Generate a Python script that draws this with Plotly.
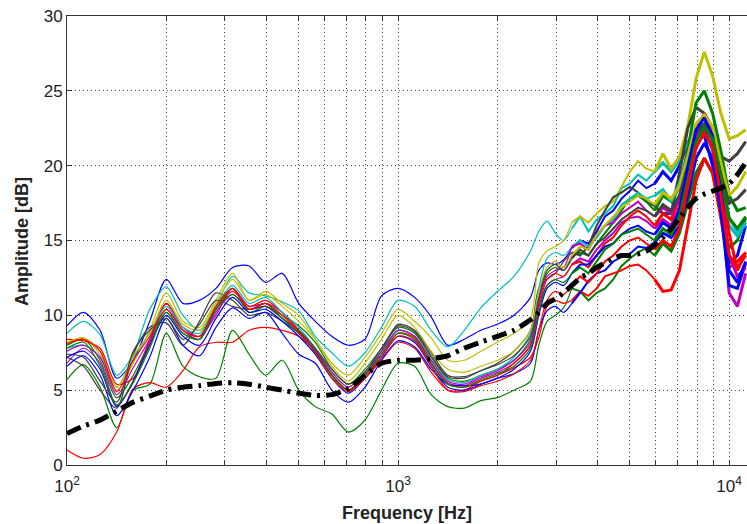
import plotly.graph_objects as go

# Frequency grid (Hz), log-spaced
FREQ_HZ = [100, 112.2, 125.9, 141.3, 158.5, 177.8, 199.5, 223.9, 251.2, 281.8,
           316.2, 354.8, 398.1, 446.7, 501.2, 562.3, 631.0, 707.9, 794.3, 891.3,
           1000, 1122, 1259, 1413, 1585, 1778, 1995, 2239, 2512,
           2661, 2818, 2985, 3162, 3350, 3548, 3758, 3981, 4217, 4467, 4732, 5012, 5309,
           5623, 5957, 6310, 6683, 7079, 7499, 7943, 8414, 8913, 9441, 10000, 10593, 11220]

# Measured amplitude responses (dB)
blue_1 = [9.3, 10.2, 9.0, 5.8, 7.0, 9.6, 12.4, 10.8, 11.0, 11.8,
          13.2, 13.3, 12.2, 12.8, 10.8, 9.6, 8.6, 8.0, 8.4, 11.3,
          11.8, 11.2, 9.9, 8.0, 8.4, 9.0, 9.4, 10.0, 11.2,
          13.0, 13.5, 13.4, 13.7, 14.5, 15.0, 14.8, 15.6, 16.6, 17.0, 17.8, 18.3, 19.0,
          18.5, 18.8, 19.6, 19.0, 20.0, 21.5, 22.5, 22.0, 20.0, 17.0, 13.5, 14.0, 16.0]
green_1 = [5.7, 6.7, 5.2, 2.5, 5.0, 5.4, 8.8, 6.6, 5.9, 5.8,
           9.0, 7.4, 6.0, 7.0, 5.0, 3.9, 3.4, 2.2, 3.0, 5.0,
           6.8, 6.6, 4.7, 3.9, 3.8, 4.3, 4.5, 5.0, 5.6,
           8.0, 9.6, 10.0, 10.5, 11.8, 11.6, 11.0, 11.5, 11.8, 12.4, 13.3, 13.8, 14.2,
           14.5, 14.0, 14.8, 14.3, 15.5, 17.5, 19.5, 20.5, 19.5, 17.0, 14.5, 15.0, 16.5]
red_1 = [1.0, 0.45, 0.7, 2.2, 5.1, 5.5, 5.2, 6.3, 7.9, 8.2,
         8.2, 9.0, 9.2, 9.0, 8.6, 7.6, 6.0, 5.0, 5.8, 7.0,
         8.2, 7.8, 6.2, 5.0, 5.0, 5.6, 6.0, 6.5, 7.2,
         8.5, 10.6, 11.0, 10.8, 11.0, 11.6, 11.3, 11.8, 12.6, 12.8, 13.0, 13.3, 13.4,
         13.0, 12.4, 11.6, 11.7, 13.0, 16.0, 19.0, 20.5, 19.5, 16.5, 13.2, 13.6, 14.2]
cyan_1 = [8.8, 9.6, 8.7, 6.0, 7.4, 10.4, 11.9, 10.0, 9.0, 10.6,
          12.6, 11.5, 11.3, 10.9, 10.3, 8.6, 7.5, 6.6, 7.5, 9.2,
          11.0, 10.6, 9.0, 7.9, 9.0, 10.5, 11.6, 12.6, 14.3,
          15.6, 16.3, 15.5, 15.0, 15.8, 16.6, 15.6, 16.4, 16.8, 17.3, 18.5, 18.8, 19.4,
          19.0, 19.6, 20.2, 19.6, 20.4, 21.5, 22.3, 22.6, 21.0, 18.5, 16.0, 15.3, 16.2]
magenta_1 = [6.8, 7.8, 6.8, 4.0, 5.6, 8.4, 10.8, 9.2, 8.6, 10.0,
             11.8, 10.6, 10.8, 10.2, 9.0, 7.6, 6.0, 5.0, 6.0, 7.4,
             9.0, 8.6, 6.8, 5.5, 5.3, 5.8, 6.2, 6.8, 8.0,
             10.6, 12.0, 12.4, 12.6, 13.4, 13.8, 13.6, 14.4, 15.0, 15.5, 16.2, 16.5, 16.6,
             16.3, 15.8, 16.4, 16.0, 17.2, 19.5, 21.8, 22.6, 21.5, 18.0, 11.5, 10.6, 12.8]
yellow_1 = [8.0, 8.4, 7.4, 5.0, 6.8, 9.0, 11.5, 9.6, 9.2, 11.0,
            12.8, 11.0, 11.4, 10.6, 9.6, 8.4, 6.8, 6.0, 7.2, 8.8,
            10.4, 9.6, 8.5, 7.0, 7.0, 7.6, 8.2, 8.8, 9.8,
            13.5, 14.3, 14.6, 15.0, 16.2, 16.6, 16.2, 16.8, 17.3, 17.6, 18.6, 19.6, 20.3,
            19.8, 19.6, 20.8, 19.8, 20.6, 22.6, 25.8, 27.6, 26.0, 23.5, 21.8, 22.0, 22.4]
gray_1 = [7.2, 6.6, 5.0, 3.8, 7.4, 9.2, 9.5, 8.0, 9.6, 11.5,
          11.0, 10.0, 10.2, 9.6, 8.8, 7.6, 6.0, 5.0, 6.0, 7.6,
          9.4, 9.0, 7.5, 6.0, 5.9, 6.3, 6.8, 7.6, 9.0,
          11.8, 12.4, 12.8, 13.6, 14.2, 14.0, 14.6, 16.0, 17.0, 17.9, 18.2, 18.6, 18.2,
          17.6, 17.3, 16.8, 16.8, 19.5, 22.5, 23.9, 23.5, 22.5, 20.6, 20.3, 20.8, 21.6]
blue_2 = [6.6, 7.3, 6.0, 3.3, 5.0, 7.2, 9.8, 8.0, 7.3, 9.2,
          10.5, 9.8, 10.2, 8.8, 7.4, 6.8, 5.0, 4.2, 5.2, 7.0,
          8.3, 7.9, 6.4, 5.4, 5.3, 5.4, 5.8, 6.1, 6.8,
          9.0, 10.3, 10.6, 10.2, 10.8, 11.5, 12.3, 12.8, 13.0, 13.6, 13.9, 14.1, 14.6,
          14.5, 14.9, 15.5, 15.2, 16.0, 18.0, 20.5, 21.5, 20.5, 17.0, 12.0, 11.8, 13.5]
green_2 = [8.0, 8.4, 7.0, 4.5, 6.0, 8.2, 10.2, 8.8, 8.4, 10.4,
           11.8, 10.2, 10.6, 10.0, 9.3, 8.2, 6.4, 5.4, 6.4, 7.8,
           9.2, 8.8, 7.2, 5.8, 5.6, 6.0, 6.4, 7.0, 8.4,
           11.0, 12.8, 13.2, 13.0, 14.0, 14.2, 14.0, 14.8, 15.5, 16.2, 17.0, 17.8, 18.0,
           17.6, 17.0, 18.0, 17.6, 18.6, 21.0, 24.2, 25.0, 23.5, 21.0, 18.0, 17.0, 17.2]
red_2 = [8.4, 8.3, 7.8, 5.4, 5.8, 8.2, 10.8, 9.0, 8.6, 10.4,
         11.6, 10.6, 11.0, 10.2, 9.0, 7.6, 6.0, 5.0, 6.0, 7.2,
         8.8, 8.5, 6.8, 5.4, 5.2, 5.6, 6.0, 6.8, 8.0,
         10.5, 12.4, 12.8, 12.6, 13.4, 13.6, 13.2, 14.0, 14.8, 15.2, 16.0, 16.6, 17.0,
         16.6, 16.0, 16.8, 16.4, 17.8, 20.5, 22.5, 23.4, 22.5, 19.5, 15.5, 13.0, 14.2]
cyan_2 = [7.8, 8.0, 7.2, 5.2, 7.2, 8.8, 10.6, 9.2, 8.8, 10.6,
          12.0, 10.8, 11.2, 10.2, 9.2, 7.8, 6.2, 5.2, 6.2, 7.6,
          9.0, 8.6, 7.0, 5.7, 5.5, 6.0, 6.4, 7.2, 8.8,
          11.8, 13.8, 14.2, 14.0, 14.6, 15.0, 14.6, 15.2, 16.0, 16.4, 17.4, 17.8, 18.2,
          17.8, 18.0, 18.4, 17.6, 18.8, 20.6, 22.4, 22.8, 21.6, 19.5, 16.5, 15.6, 16.0]
magenta_2 = [7.6, 8.0, 7.2, 4.7, 6.5, 8.4, 10.4, 9.0, 8.4, 10.2,
             11.4, 10.4, 10.6, 9.8, 8.8, 7.7, 6.2, 5.2, 6.2, 7.6,
             9.0, 8.6, 7.0, 5.6, 5.4, 5.9, 6.3, 7.0, 8.2,
             10.8, 12.6, 13.0, 13.2, 14.6, 14.8, 14.4, 15.4, 16.0, 16.2, 16.8, 17.2, 17.6,
             17.0, 16.6, 17.2, 16.8, 17.8, 19.8, 22.0, 22.4, 21.2, 18.5, 14.0, 12.6, 13.2]
yellow_2 = [8.2, 8.5, 7.6, 5.2, 7.3, 8.8, 11.0, 9.4, 9.0, 10.8,
            12.4, 11.0, 11.6, 10.8, 10.0, 8.4, 6.6, 5.6, 6.8, 8.4,
            10.0, 9.2, 7.6, 6.4, 6.2, 6.6, 7.0, 7.6, 9.0,
            11.6, 13.2, 13.6, 13.2, 14.0, 14.6, 14.4, 15.4, 16.0, 16.6, 17.2, 17.6, 18.0,
            17.8, 17.4, 18.2, 17.8, 18.6, 20.6, 22.8, 23.4, 22.6, 20.2, 18.0, 18.6, 19.6]
gray_2 = [7.4, 7.2, 5.6, 4.2, 7.6, 9.0, 9.8, 8.4, 9.4, 11.0,
          10.6, 10.4, 10.6, 9.8, 9.0, 7.8, 6.4, 5.4, 6.2, 7.8,
          9.3, 8.9, 7.3, 5.9, 5.8, 6.3, 6.7, 7.3, 8.6,
          11.2, 13.0, 13.4, 13.0, 13.8, 14.4, 14.0, 14.8, 15.2, 15.8, 16.4, 16.8, 17.2,
          17.0, 16.6, 17.4, 17.0, 18.0, 20.0, 22.2, 22.8, 21.8, 19.4, 17.5, 17.8, 18.4]
blue_3 = [7.2, 7.6, 6.4, 3.9, 5.6, 8.0, 10.0, 8.6, 8.0, 9.8,
          11.2, 10.2, 10.4, 9.6, 8.6, 7.4, 5.8, 4.8, 5.8, 7.2,
          8.6, 8.2, 6.6, 5.2, 5.0, 5.4, 5.8, 6.4, 7.6,
          10.0, 11.8, 12.2, 12.0, 12.8, 13.4, 13.4, 14.0, 14.6, 14.8, 15.4, 15.8, 16.0,
          15.6, 15.4, 16.2, 15.8, 17.0, 19.8, 22.4, 23.2, 22.0, 18.6, 13.0, 12.2, 13.6]
green_3 = [7.8, 8.2, 6.6, 4.0, 5.5, 7.8, 10.2, 8.8, 8.4, 10.4,
           11.4, 10.4, 10.8, 9.8, 8.8, 7.6, 6.0, 5.0, 6.0, 7.4,
           8.8, 8.4, 6.8, 5.4, 5.2, 5.7, 6.1, 6.6, 7.8,
           10.2, 12.0, 12.4, 12.2, 12.8, 13.2, 12.8, 13.6, 14.4, 14.8, 15.4, 15.6, 15.8,
           15.4, 15.0, 15.8, 15.4, 16.6, 19.0, 21.6, 22.6, 21.8, 19.4, 16.5, 15.8, 16.6]
red_3 = [8.1, 8.4, 7.6, 4.9, 7.0, 8.6, 10.4, 9.0, 8.6, 10.6,
         11.8, 10.4, 10.8, 10.0, 8.9, 7.5, 5.8, 4.9, 5.8, 7.2,
         8.6, 8.3, 6.6, 5.0, 4.9, 5.3, 5.6, 6.1, 7.0,
         9.0, 11.0, 11.6, 11.4, 12.0, 12.6, 12.2, 12.8, 13.6, 14.0, 14.6, 15.0, 15.2,
         14.8, 14.4, 15.0, 14.6, 15.8, 18.6, 21.2, 22.2, 21.2, 18.0, 14.0, 13.2, 14.0]

# Reference (target) curve, dB
reference_curve = [2.1, 2.6, 3.0, 3.6, 4.2, 4.6, 5.0, 5.2, 5.3, 5.45,
                   5.5, 5.4, 5.2, 5.0, 4.8, 4.65, 4.7, 5.1, 6.0, 6.8,
                   7.0, 7.0, 7.1, 7.3, 7.8, 8.2, 8.6, 9.0, 9.7,
                   10.2, 10.8, 11.1, 11.5, 12.0, 12.5, 12.8, 13.2, 13.5, 13.8, 14.0, 14.0, 14.1,
                   14.3, 14.7, 15.2, 15.8, 16.5, 17.2, 17.8, 18.1, 18.3, 18.5, 18.8, 19.4, 20.2]

Y_TICKS = [0, 5, 10, 15, 20, 25, 30]
X_DECADES = [100, 1000, 10000]
X_DECADE_LABELS = ["10<sup>2</sup>", "10<sup>3</sup>", "10<sup>4</sup>"]
X_TITLE = "Frequency [Hz]"
Y_TITLE = "Amplitude [dB]"

BLUE, GREEN, RED = "#0000FF", "#008000", "#FF0000"
CYAN, MAGENTA, YELLOW, GRAY = "#00BFBF", "#BF00BF", "#BFBF00", "#404040"

curves = [
    (blue_1, BLUE), (green_1, GREEN), (red_1, RED), (cyan_1, CYAN),
    (magenta_1, MAGENTA), (yellow_1, YELLOW), (gray_1, GRAY),
    (blue_2, BLUE), (green_2, GREEN), (red_2, RED), (cyan_2, CYAN),
    (magenta_2, MAGENTA), (yellow_2, YELLOW), (gray_2, GRAY),
    (blue_3, BLUE), (green_3, GREEN), (red_3, RED),
]

# Segment split: smooth low band, progressively noisier (thicker) high band
SPLIT_MID, SPLIT_HIGH = 33, 43

fig = go.Figure()
for values, color in curves:
    fig.add_trace(go.Scatter(
        x=FREQ_HZ[:SPLIT_MID + 1], y=values[:SPLIT_MID + 1], mode="lines",
        line=dict(color=color, width=1.2, shape="spline", smoothing=0.8),
        showlegend=False, hoverinfo="skip"))
    fig.add_trace(go.Scatter(
        x=FREQ_HZ[SPLIT_MID:SPLIT_HIGH + 1], y=values[SPLIT_MID:SPLIT_HIGH + 1], mode="lines",
        line=dict(color=color, width=2.0),
        showlegend=False, hoverinfo="skip"))
    fig.add_trace(go.Scatter(
        x=FREQ_HZ[SPLIT_HIGH:], y=values[SPLIT_HIGH:], mode="lines",
        line=dict(color=color, width=3.0),
        showlegend=False, hoverinfo="skip"))

fig.add_trace(go.Scatter(
    x=FREQ_HZ, y=reference_curve, mode="lines",
    line=dict(color="black", width=5, dash="15px,6px,3px,6px", shape="spline", smoothing=0.6),
    showlegend=False, hoverinfo="skip"))

# Log axis ticks: every 1-9 multiple, labels only on decades
x_tickvals = []
x_ticktext = []
for i, dec in enumerate(X_DECADES):
    for m in range(1, 10):
        v = dec * m
        if v > 11300:
            break
        x_tickvals.append(v)
        x_ticktext.append(X_DECADE_LABELS[i] if m == 1 else "")

font_family = "Liberation Sans, Arial, sans-serif"
axis_color = "#333333"

fig.update_layout(
    width=747, height=524,
    margin=dict(l=67, r=0, t=16, b=59),
    paper_bgcolor="white", plot_bgcolor="white",
    font=dict(family=font_family, size=17, color="#222222"),
    xaxis=dict(
        type="log", range=[2, 4.054],
        tickvals=x_tickvals, ticktext=x_ticktext,
        ticks="inside", ticklen=5, tickcolor=axis_color,
        showline=True, linecolor=axis_color, linewidth=1, mirror="ticks",
        showgrid=True, gridcolor="#444444", griddash="1px,3px", gridwidth=1,
        zeroline=False, ticklabelstandoff=6,
        tickfont=dict(size=17),
    ),
    yaxis=dict(
        range=[0, 30], tickvals=Y_TICKS,
        ticks="inside", ticklen=5, tickcolor=axis_color,
        showline=True, linecolor=axis_color, linewidth=1,
        showgrid=True, gridcolor="#444444", griddash="1px,3px", gridwidth=1,
        zeroline=False,
        tickfont=dict(size=17),
    ),
    annotations=[
        dict(text="<b>" + X_TITLE + "</b>", xref="paper", yref="paper",
             x=0.5, y=-0.107, xanchor="center", yanchor="middle",
             showarrow=False, font=dict(size=18)),
        dict(text="<b>" + Y_TITLE + "</b>", xref="paper", yref="paper",
             x=-0.066, y=0.497, xanchor="center", yanchor="middle",
             textangle=-90, showarrow=False, font=dict(size=18)),
    ],
)

fig.write_html("out.html")
